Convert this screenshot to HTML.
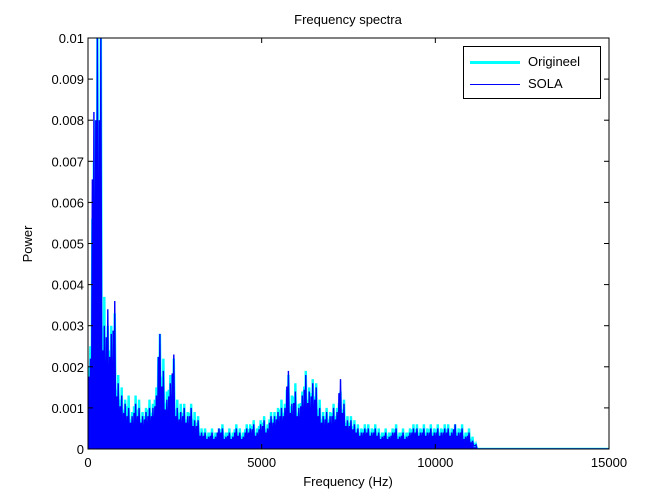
<!DOCTYPE html>
<html><head><meta charset="utf-8"><style>
body{margin:0;background:#fff}
svg{display:block;font-family:"Liberation Sans",sans-serif}
</style></head><body>
<svg id="chart" width="672" height="504"></svg>
<script>
const freqStep = 100;
const origineelPeaks = [0.0025,0.0070,0.0100,0.0100,0.0037,0.0030,0.0030,0.0033,0.0018,0.0015,0.0012,0.0013,0.0009,0.0013,0.0012,0.0009,0.0010,0.0012,0.0011,0.0015,0.0028,0.0022,0.0014,0.0018,0.0022,0.0012,0.0011,0.0011,0.0009,0.0011,0.0009,0.0008,0.0005,0.0005,0.0004,0.0005,0.0004,0.0005,0.0006,0.0004,0.0005,0.0004,0.0006,0.0005,0.0004,0.0006,0.0006,0.0007,0.0005,0.0007,0.0008,0.0006,0.0009,0.0009,0.0010,0.0012,0.0011,0.0018,0.0013,0.0016,0.0011,0.0014,0.0019,0.0015,0.0017,0.0016,0.0012,0.0009,0.0010,0.0009,0.0011,0.0010,0.0014,0.0012,0.0008,0.0008,0.0007,0.0006,0.0005,0.0006,0.0006,0.0005,0.0006,0.0005,0.0004,0.0005,0.0004,0.0005,0.0006,0.0004,0.0005,0.0004,0.0005,0.0006,0.0006,0.0005,0.0006,0.0005,0.0006,0.0005,0.0006,0.0005,0.0006,0.0006,0.0005,0.0006,0.0005,0.0006,0.0004,0.0005,0.0003,0.0001];
const solaPeaks = [0.0022,0.0082,0.0100,0.0100,0.0030,0.0034,0.0028,0.0036,0.0016,0.0013,0.0011,0.0010,0.0008,0.0011,0.0010,0.0008,0.0009,0.0010,0.0010,0.0013,0.0028,0.0019,0.0012,0.0016,0.0023,0.0010,0.0009,0.0010,0.0008,0.0010,0.0007,0.0007,0.0004,0.0004,0.0003,0.0004,0.0003,0.0005,0.0005,0.0003,0.0004,0.0003,0.0005,0.0004,0.0003,0.0005,0.0005,0.0006,0.0004,0.0006,0.0007,0.0005,0.0008,0.0008,0.0009,0.0010,0.0010,0.0019,0.0011,0.0014,0.0010,0.0013,0.0018,0.0014,0.0016,0.0015,0.0010,0.0008,0.0009,0.0008,0.0010,0.0009,0.0017,0.0011,0.0007,0.0007,0.0006,0.0005,0.0004,0.0005,0.0005,0.0004,0.0005,0.0004,0.0003,0.0004,0.0003,0.0004,0.0005,0.0003,0.0004,0.0003,0.0004,0.0005,0.0005,0.0004,0.0005,0.0004,0.0005,0.0004,0.0005,0.0004,0.0005,0.0005,0.0004,0.0006,0.0004,0.0005,0.0003,0.0004,0.0002,0.0001];
const origineelFloor = 0.00003;
const solaFloor = 0.00008;
const xTicks = [0,5000,10000,15000];
const yTicks = [0,0.001,0.002,0.003,0.004,0.005,0.006,0.007,0.008,0.009,0.01];
const yTickLabels = ["0","0.001","0.002","0.003","0.004","0.005","0.006","0.007","0.008","0.009","0.01"];

const L=88,R=609,T=38,B=449;
const xs=v=>L+(v/15000)*(R-L);
const ys=v=>B-(Math.min(v,0.0102)/0.01)*(B-T);
const svg=document.getElementById('chart');
const NS='http://www.w3.org/2000/svg';
function mk(tag,attrs,parent){const e=document.createElementNS(NS,tag);for(const k in attrs)e.setAttribute(k,attrs[k]);(parent||svg).appendChild(e);return e;}

const clip=mk('clipPath',{id:'pc'});mk('rect',{x:L,y:T,width:R-L,height:B-T},clip);
mk('rect',{x:L,y:T,width:R-L,height:B-T,fill:'#fff'});

function series(peaks,floor,color,w,name){
  const g=mk('g',{'clip-path':'url(#pc)'});
  
  
  // dense body
  let area=[xs(0)+','+ys(0)];
  peaks.forEach((p,i)=>{const f=i*freqStep;area.push(xs(f)+','+ys(p*0.45));area.push(xs(f+freqStep)+','+ys(p*0.45));});
  area.push(xs(peaks.length*freqStep)+','+ys(0));
  mk('polygon',{points:area.join(' '),fill:color,stroke:'none'},g);
  // spikes
  let pts=[];
  peaks.forEach((p,i)=>{const f=i*freqStep;
    pts.push(xs(f)+','+ys(floor));
    pts.push(xs(f+freqStep*0.25)+','+ys(p*0.8));
    pts.push(xs(f+freqStep*0.45)+','+ys(floor));
    pts.push(xs(f+freqStep*0.7)+','+ys(p));
  });
  const last=peaks.length*freqStep;
  pts.push(xs(last)+','+ys(0));pts.push(xs(15000)+','+ys(0));
  mk('polyline',{points:pts.join(' '),fill:'none',stroke:color,'stroke-width':w},g);
}
series(origineelPeaks,origineelFloor,'#00ffff',2.4,'origineel-series');
series(solaPeaks,solaFloor,'#0000ff',1.4,'sola-series');

const ax=mk('g',{});


mk('rect',{x:L,y:T,width:R-L,height:B-T,fill:'none',stroke:'#000','stroke-width':1},ax);
xTicks.forEach(v=>{const x=xs(v);
  mk('line',{x1:x,y1:B,x2:x,y2:B-5,stroke:'#000'},ax);
  mk('line',{x1:x,y1:T,x2:x,y2:T+5,stroke:'#000'},ax);
  const t=mk('text',{x:x,y:B+18,'text-anchor':'middle','font-size':13},ax);t.textContent=v;
  
  
});
yTicks.forEach((v,i)=>{const y=ys(v);
  mk('line',{x1:L,y1:y,x2:L+5,y2:y,stroke:'#000'},ax);
  mk('line',{x1:R,y1:y,x2:R-5,y2:y,stroke:'#000'},ax);
  const t=mk('text',{x:L-4,y:y+5,'text-anchor':'end','font-size':13},ax);t.textContent=yTickLabels[i];
  
  
});
const yt=mk('text',{x:0,y:0,'text-anchor':'middle','font-size':13,transform:'translate(32,244) rotate(-90)'});
yt.textContent='Power';


</script>
<div style="position:absolute;left:0;top:0;width:672px;height:504px;pointer-events:none">
<div style="position:absolute;left:0;width:696px;top:12px;text-align:center;font:13px 'Liberation Sans',sans-serif">Frequency spectra</div>
<div style="position:absolute;left:0;width:696px;top:474px;text-align:center;font:13px 'Liberation Sans',sans-serif">Frequency (Hz)</div>
<div style="position:absolute;left:463px;top:46px;width:136px;height:51px;border:1px solid #000;background:#fff;font:13px 'Liberation Sans',sans-serif">
 <div style="position:absolute;left:6px;top:7px"><span style="display:inline-block;width:50px;height:3px;background:#0ff;vertical-align:middle;margin-right:8px"></span>Origineel</div>
 <div style="position:absolute;left:6px;top:29px"><span style="display:inline-block;width:50px;height:1px;background:#00f;vertical-align:middle;margin-right:8px"></span>SOLA</div>
</div>
</div>
</body></html>
